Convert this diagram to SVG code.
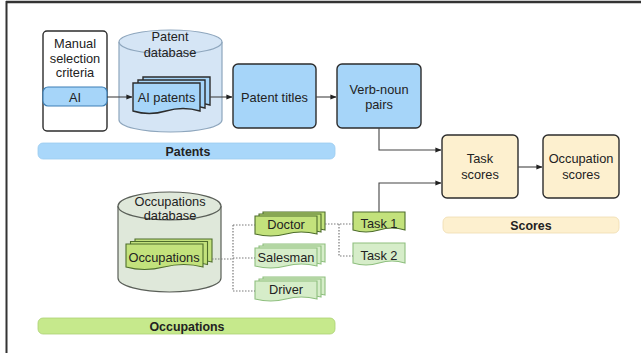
<svg xmlns="http://www.w3.org/2000/svg" width="641" height="353" viewBox="0 0 641 353">
<defs>
<marker id="arr" viewBox="0 0 8 8" refX="7.5" refY="4" markerWidth="6" markerHeight="6" orient="auto" markerUnits="userSpaceOnUse">
<path d="M0,0.8 L8,4 L0,7.2 Z" fill="#222"/>
</marker>
</defs>
<style>
text{font-family:"Liberation Sans",Arial,sans-serif;font-size:12.8px;fill:#222;text-anchor:middle}
.b{font-weight:bold;font-size:12.4px}
.blue{fill:#a6d5f9;stroke:#2c2c2c;stroke-width:1.4}
.cylb{fill:#d5e5f5;stroke:#8ea6bd;stroke-width:1.2}
.cylg{fill:#dfe8da;stroke:#5a5f58;stroke-width:1.2}
.gdark{fill:#c3e27c;stroke:#4e6d2c;stroke-width:1.1}
.glight{fill:#d6edc9;stroke:#8fbf7f;stroke-width:1.1}
.yel{fill:#fdf0cf;stroke:#2c2c2c;stroke-width:1.4}
.con{fill:none;stroke:#444;stroke-width:1.1}
.dot{fill:none;stroke:#7a7a7a;stroke-width:1.2;stroke-dasharray:1.5,1.5}
</style>
<rect width="641" height="353" fill="#fff"/>
<line x1="6" y1="2" x2="641" y2="2" stroke="#333" stroke-width="2.5"/>
<line x1="6.5" y1="1" x2="6.5" y2="353" stroke="#333" stroke-width="2"/>

<g id="bar-patents">
<rect x="38" y="143" width="297" height="16" rx="5" fill="#a9d7fa" stroke="#9ccbef" stroke-width="0.8"/>
<text x="188" y="156" class="b">Patents</text>
</g>
<g id="bar-occupations">
<rect x="38" y="318" width="297" height="16" rx="5" fill="#c6e98c" stroke="#acd174" stroke-width="0.8"/>
<text x="187" y="330.5" class="b">Occupations</text>
</g>
<g id="bar-scores">
<rect x="443" y="217" width="176" height="16" rx="5" fill="#fdf0cf" stroke="#efdcb0" stroke-width="0.8"/>
<text x="531" y="229.5" class="b">Scores</text>
</g>

<g id="manual-criteria">
<rect x="43" y="31" width="64" height="100" rx="4" fill="#fff" stroke="#2c2c2c" stroke-width="1.4"/>
<text x="75" y="48">Manual</text>
<text x="75" y="62.5">selection</text>
<text x="75" y="77">criteria</text>
</g>
<g id="ai">
<rect x="43" y="87" width="64" height="19" rx="5" fill="#a6d5f9" stroke="#3d7fb5" stroke-width="1.2"/>
<text x="75" y="101.5">AI</text>
</g>

<g id="patent-database">
<path class="cylb" d="M119,42 A51.5,12 0 0 1 222,42 V120 A51.5,12 0 0 1 119,120 Z"/>
<path class="cylb" fill="none" d="M119,42 A51.5,12 0 0 0 222,42"/>
<text x="170" y="41">Patent</text>
<text x="170" y="57">database</text>
</g>
<g id="ai-patents">
<path class="blue" stroke-width="1.1" d="M143,77 H210 V105 Q193,100 176,105 T143,105 Z"/>
<path class="blue" stroke-width="1.1" d="M138,80 H205 V108 Q188,103 171,108 T138,108 Z"/>
<path class="blue" stroke-width="1.1" d="M133,83 H200 V111 Q183,106 166,111 T133,111 Z"/>
<text x="166.5" y="101.5">AI patents</text>
</g>
<g id="patent-titles">
<rect class="blue" x="233" y="64" width="83" height="64" rx="5"/>
<text x="274.5" y="101.5">Patent titles</text>
</g>
<g id="verb-noun">
<rect class="blue" x="337" y="64" width="84" height="64" rx="5"/>
<text x="379" y="94">Verb-noun</text>
<text x="379" y="108.5">pairs</text>
</g>
<g id="task-scores">
<rect class="yel" x="442" y="135" width="76" height="63" rx="5"/>
<text x="480" y="163">Task</text>
<text x="480" y="179">scores</text>
</g>
<g id="occupation-scores">
<rect class="yel" x="543" y="135" width="76" height="63" rx="5"/>
<text x="581" y="163">Occupation</text>
<text x="581" y="179">scores</text>
</g>

<g id="occupations-database">
<path class="cylg" d="M118,206 A51.5,14 0 0 1 221,206 V278 A51.5,14 0 0 1 118,278 Z"/>
<path class="cylg" fill="none" d="M118,206 A51.5,14 0 0 0 221,206"/>
<text x="170" y="206">Occupations</text>
<text x="170" y="220">database</text>
</g>
<g id="occupations">
<path class="gdark" d="M135,239 H212 V262 Q193,257 173,262 T135,262 Z"/>
<path class="gdark" d="M130.5,241.5 H207.5 V264.5 Q188,259.5 169,264.5 T130.5,264.5 Z"/>
<path class="gdark" d="M126,244 H203 V267 Q184,262 164,267 T126,267 Z"/>
<text x="164" y="262">Occupations</text>
</g>
<g id="doctor">
<path class="gdark" d="M263,212 H325 V230 Q309,226 294,230 T263,230 Z"/>
<path class="gdark" d="M259,214 H321 V232 Q305,228 290,232 T259,232 Z"/>
<path class="gdark" d="M255,216 H317 V234 Q301,230 286,234 T255,234 Z"/>
<text x="286" y="229">Doctor</text>
</g>
<g id="salesman">
<path class="glight" d="M263,244 H325 V262 Q309,258 294,262 T263,262 Z"/>
<path class="glight" d="M259,246 H321 V264 Q305,260 290,264 T259,264 Z"/>
<path class="glight" d="M255,248 H317 V266 Q301,262 286,266 T255,266 Z"/>
<text x="286" y="262">Salesman</text>
</g>
<g id="driver">
<path class="glight" d="M263,277 H325 V295 Q309,291 294,295 T263,295 Z"/>
<path class="glight" d="M259,279 H321 V297 Q305,293 290,297 T259,297 Z"/>
<path class="glight" d="M255,281 H317 V299 Q301,295 286,299 T255,299 Z"/>
<text x="286" y="294">Driver</text>
</g>
<g id="task1">
<path class="gdark" d="M353,212 H405 V230 Q392,226 379,230 T353,230 Z"/>
<text x="379" y="228">Task 1</text>
</g>
<g id="task2">
<path class="glight" d="M353,243 H405 V263 Q392,259 379,263 T353,263 Z"/>
<text x="379" y="260">Task 2</text>
</g>

<g id="connectors">
<path class="con" d="M107,97 H132" marker-end="url(#arr)"/>
<path class="con" d="M210,97 H232" marker-end="url(#arr)"/>
<path class="con" d="M316,97 H336" marker-end="url(#arr)"/>
<path class="con" d="M379,128 V150 H441" marker-end="url(#arr)"/>
<path class="con" d="M379,212 V183 H441" marker-end="url(#arr)"/>
<path class="con" d="M518,167 H542" marker-end="url(#arr)"/>
<path class="dot" d="M212,259 H233"/>
<path class="dot" d="M233,225 V291"/>
<path class="dot" d="M233,225 H255"/>
<path class="dot" d="M233,258 H255"/>
<path class="dot" d="M233,291 H255"/>
<path class="dot" d="M325,224 H353"/>
<path class="dot" d="M339,224 V256 H353"/>
</g>
</svg>
